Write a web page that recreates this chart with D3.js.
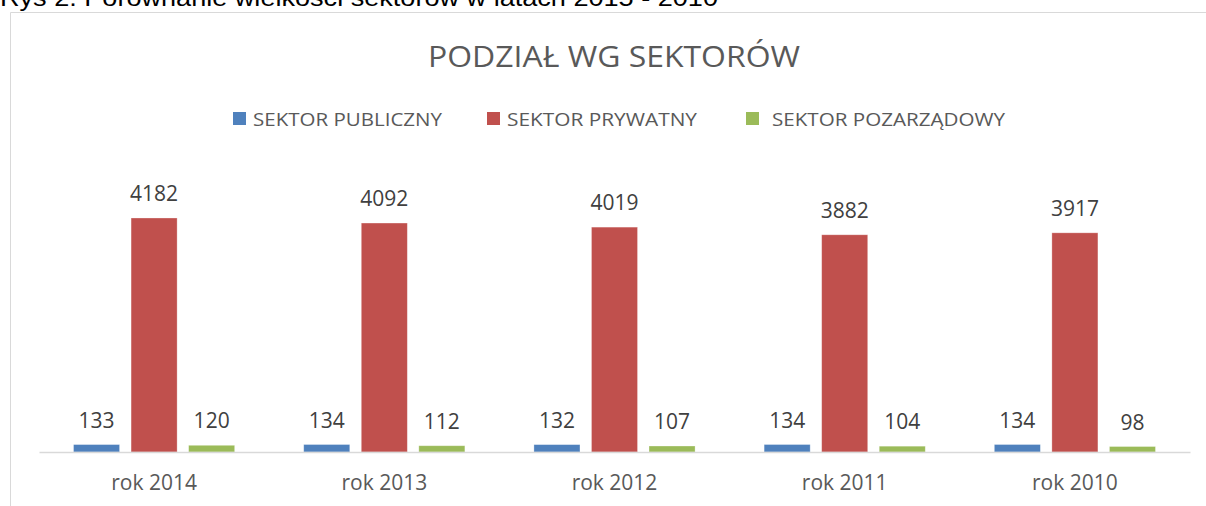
<!DOCTYPE html>
<html lang="pl">
<head>
  <meta charset="UTF-8">
  <title>Podział wg sektorów</title>
  <style>
  * {
    margin: 0;padding: 0;
  }
  body {
    background: #fff;
  }
  </style>
  <script src="https://cdn.jsdelivr.net/npm/d3@7/dist/d3.min.js"></script>
</head>
<body>
<svg width="1206" height="506" id="svg1"></svg>
<script>
// dane z wykresu
const categories = ["rok 2014", "rok 2013", "rok 2012", "rok 2011", "rok 2010"];
const seriesNames = ["SEKTOR PUBLICZNY", "SEKTOR PRYWATNY", "SEKTOR POZARZĄDOWY"];
const publiczny = [133, 134, 132, 134, 134];
const prywatny = [4182, 4092, 4019, 3882, 3917];
const pozarzadowy = [120, 112, 107, 104, 98];
const colors = ["#4f81bd", "#c0504d", "#9bbb59"];

const series = [publiczny, prywatny, pozarzadowy];
const font = "'Open Sans', 'Noto Sans', sans-serif";
const textColor = "#595959";

const svg = d3.select("#svg1");

// podpis nad wykresem (ucięty u góry)
svg.append("text")
  .attr("x", 0)
  .attr("y", 6)
  .attr("font-family", "'Liberation Sans', Arial, sans-serif")
  .attr("font-size", 23)
  .attr("fill", "#000")
  .attr("textLength", 718)
  .attr("lengthAdjust", "spacingAndGlyphs")
  .text("Rys 2. Porównanie wielkości sektorów w latach 2015 - 2010");

// ramka wykresu
svg.append("path")
  .attr("d", "M10.5,506 V12.5 H1206")
  .attr("fill", "none")
  .attr("stroke", "#d9d9d9")
  .attr("stroke-width", 1);

// tytuł
svg.append("text")
  .attr("x", 614)
  .attr("y", 67)
  .attr("text-anchor", "middle")
  .attr("font-family", font)
  .attr("font-size", 30)
  .attr("fill", textColor)
  .attr("textLength", 372)
  .attr("lengthAdjust", "spacingAndGlyphs")
  .text("PODZIAŁ WG SEKTORÓW");

// legenda
const legendX = [233, 487, 746];
const legendW = [189, 190, 233];
const legend = svg.append("g").selectAll("g").data(seriesNames).enter().append("g");
legend.append("rect")
  .attr("x", (d, i) => legendX[i])
  .attr("y", 112)
  .attr("width", 13)
  .attr("height", 13)
  .attr("fill", (d, i) => colors[i]);
legend.append("text")
  .attr("x", (d, i) => legendX[i] + (i === 2 ? 26 : 20))
  .attr("y", 126)
  .attr("font-family", font)
  .attr("font-size", 19)
  .attr("fill", textColor)
  .attr("textLength", (d, i) => legendW[i])
  .attr("lengthAdjust", "spacingAndGlyphs")
  .text(d => d);

// skale
const x0 = d3.scaleBand()
  .domain(categories)
  .range([39, 1190])
  .paddingInner(0.3)
  .paddingOuter(0.15);

const x1 = d3.scaleBand()
  .domain(d3.range(series.length))
  .range([0, x0.bandwidth()])
  .paddingInner(0.2)
  .paddingOuter(0);

const y = d3.scaleLinear()
  .domain([0, 4500])
  .range([452, 200.2]);

// słupki
const groups = svg.append("g").selectAll("g").data(categories).enter()
  .append("g")
  .attr("transform", d => `translate(${x0(d)},0)`);

const cells = groups.selectAll("g")
  .data((c, ci) => series.map((s, si) => ({ si: si, v: s[ci] })))
  .enter().append("g");

cells.append("rect")
  .attr("x", d => x1(d.si))
  .attr("y", d => y(d.v))
  .attr("width", x1.bandwidth())
  .attr("height", d => y(0) - y(d.v))
  .attr("fill", d => colors[d.si])
  .attr("stroke", "#fff")
  .attr("stroke-opacity", 0.4)
  .attr("stroke-width", 0.75);

// etykiety wartości
cells.append("text")
  .attr("x", d => x1(d.si) + x1.bandwidth() / 2)
  .attr("y", d => y(d.v) - 17)
  .attr("text-anchor", "middle")
  .attr("font-family", font)
  .attr("font-size", 21)
  .attr("fill", "#404040")
  .text(d => d.v);

// oś X
const xAxis = svg.append("g")
  .attr("transform", "translate(0,452)")
  .call(d3.axisBottom(x0).tickSize(0).tickPadding(0));
xAxis.select(".domain")
  .attr("stroke", "#d9d9d9")
  .attr("stroke-width", 1.5);
xAxis.selectAll("text")
  .attr("dy", null)
  .attr("y", 38)
  .attr("font-family", font)
  .attr("font-size", 21)
  .attr("fill", textColor);
</script>
</body>
</html>
